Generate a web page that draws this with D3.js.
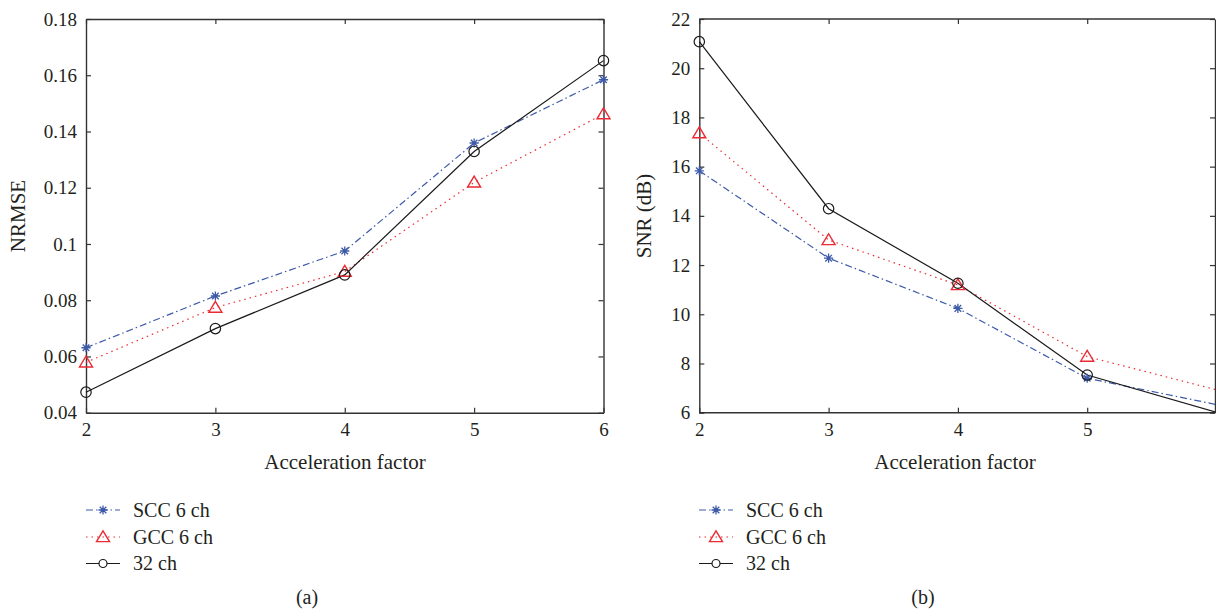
<!DOCTYPE html>
<html><head><meta charset="utf-8">
<script src="https://cdn.jsdelivr.net/npm/d3@7"></script>
<style>
body{margin:0;background:#fff;}
svg text{font-family:"Liberation Serif","DejaVu Serif",serif;fill:#231f20;}
</style></head>
<body><svg id="c" width="1216" height="611"></svg>
<script>
const accel = [2, 3, 4, 5, 6];
const seriesNames = ["SCC 6 ch", "GCC 6 ch", "32 ch"];
// (a) NRMSE
const nrmseSCC = [0.0631, 0.0815, 0.0975, 0.1359, 0.1584];
const nrmseGCC = [0.0579, 0.0774, 0.0902, 0.1219, 0.1462];
const nrmse32  = [0.0473, 0.0699, 0.0890, 0.1329, 0.1652];
// (b) SNR (dB)
const snrSCC = [15.83, 12.28, 10.24, 7.40, 6.33];
const snrGCC = [17.36, 13.02, 11.19, 8.28, 6.93];
const snr32  = [21.08, 14.29, 11.26, 7.53, 6.02];
const nrmseTicks = [0.04, 0.06, 0.08, 0.1, 0.12, 0.14, 0.16, 0.18];
const nrmseTickLabels = ["0.04","0.06","0.08","0.1","0.12","0.14","0.16","0.18"];
const snrTicks = [6, 8, 10, 12, 14, 16, 18, 20, 22];
const snrTickLabels = ["6","8","10","12","14","16","18","20","22"];
const xTicksA = [2, 3, 4, 5, 6];
const xTicksB = [2, 3, 4, 5];

const svg = d3.select("#c");
const styles = [
  {color:"#3d5aa8", dash:"7,3,1.5,3", marker:"star"},
  {color:"#ec2a33", dash:"1.5,4", marker:"tri"},
  {color:"#1a1a1a", dash:null, marker:"circle"}
];
const axisColor = "#333";

function marker(g, type, color, x, y){
  if(type==="circle"){
    g.append("circle").attr("cx",x).attr("cy",y).attr("r",5.2)
      .attr("fill","none").attr("stroke",color).attr("stroke-width",1.2);
  } else if(type==="tri"){
    const s=6.2;
    g.append("path").attr("d",`M${x},${y-s}L${x+s*1.05},${y+s*0.75}L${x-s*1.05},${y+s*0.75}Z`)
      .attr("fill","none").attr("stroke",color).attr("stroke-width",1.4);
  } else {
    const s=4.6, d=s*0.72;
    g.append("path").attr("d",`M${x-s},${y}L${x+s},${y}M${x},${y-s}L${x},${y+s}M${x-d},${y-d}L${x+d},${y+d}M${x-d},${y+d}L${x+d},${y-d}`)
      .attr("stroke",color).attr("stroke-width",1.3).attr("fill","none");
  }
}

const defs = svg.append("defs");
defs.append("clipPath").attr("id","clipB")
  .append("rect").attr("x",690).attr("y",0).attr("width",1215-690).attr("height",420);
defs.append("clipPath").attr("id","clipBm")
  .append("rect").attr("x",690).attr("y",0).attr("width",1209-690).attr("height",420);

function panel(cfg){
  const x = d3.scaleLinear().domain([2,6]).range(cfg.xr);
  const y = d3.scaleLinear().domain(cfg.yd).range([412.7, 19]);
  const g = svg.append("g");
  const fmt = (arr, labels) => (d) => labels[arr.indexOf(d)];
  const bottom = g.append("g").attr("transform","translate(0,412.7)")
    .call(d3.axisBottom(x).tickValues(cfg.xticks).tickFormat(d=>String(d)).tickSizeInner(-5).tickSizeOuter(0).tickPadding(10));
  const top = g.append("g").attr("transform","translate(0,19)")
    .call(d3.axisTop(x).tickValues(cfg.xticks).tickFormat("").tickSizeInner(-5).tickSizeOuter(0));
  const left = g.append("g").attr("transform",`translate(${cfg.xr[0]},0)`)
    .call(d3.axisLeft(y).tickValues(cfg.yticks).tickFormat(fmt(cfg.yticks,cfg.ylabels)).tickSizeInner(-5).tickSizeOuter(0).tickPadding(9));
  const right = g.append("g").attr("transform",`translate(${cfg.rightX},0)`)
    .call(d3.axisRight(y).tickValues(cfg.yticks).tickFormat("").tickSizeInner(-5).tickSizeOuter(0));
  [bottom,top,left,right].forEach(a=>{
    a.selectAll("path.domain").attr("stroke",axisColor).attr("stroke-width",1.4);
    a.selectAll("line").attr("stroke",axisColor).attr("stroke-width",1.2);
    a.selectAll("text").style("font-size","19px").style("font-family","'Liberation Serif',serif").attr("fill","#231f20");
  });
  if(cfg.clip){ top.select("path.domain").attr("d",`M${cfg.xr[0]},0H${cfg.rightX}`);
                bottom.select("path.domain").attr("d",`M${cfg.xr[0]},0H${cfg.rightX}`); }
  const dg = g.append("g");
  const mg = g.append("g");
  if(cfg.clip){ dg.attr("clip-path","url(#"+cfg.clip+")"); mg.attr("clip-path","url(#"+cfg.clip+"m)"); }
  const line = d3.line().x((d,i)=>x(accel[i])).y(d=>y(d));
  cfg.series.forEach((vals,k)=>{
    const st = styles[k];
    dg.append("path").attr("d",line(vals)).attr("fill","none")
      .attr("stroke",st.color).attr("stroke-width",1.2)
      .attr("stroke-dasharray",st.dash);
  });
  cfg.series.forEach((vals,k)=>{
    const st = styles[k];
    vals.forEach((v,i)=>marker(mg, st.marker, st.color, x(accel[i]), y(v)));
  });
  g.append("text").attr("transform",`translate(${cfg.ylabX},216) rotate(-90)`)
    .attr("text-anchor","middle").style("font-size","21px").text(cfg.ylabel);
  g.append("text").attr("x",cfg.xlabX).attr("y",469).attr("text-anchor","middle")
    .style("font-size","21px").text("Acceleration factor");
  const lg = g.append("g");
  const ly = [510, 537, 563.5];
  seriesNames.forEach((n,k)=>{
    const st = styles[k];
    lg.append("line").attr("x1",cfg.legX).attr("x2",cfg.legX+34).attr("y1",ly[k]).attr("y2",ly[k])
      .attr("stroke",st.color).attr("stroke-width",1.2).attr("stroke-dasharray",st.dash);
    if(st.marker==="circle"){
      lg.append("circle").attr("cx",cfg.legX+17).attr("cy",ly[k]).attr("r",4)
        .attr("fill","#fff").attr("stroke",st.color).attr("stroke-width",1.2);
    } else marker(lg, st.marker, st.color, cfg.legX+17, ly[k]);
    lg.append("text").attr("x",cfg.legX+47).attr("y",ly[k]+6.5).style("font-size","20px").text(n);
  });
  g.append("text").attr("x",cfg.capX).attr("y",604).attr("text-anchor","middle")
    .style("font-size","20px").text(cfg.caption);
}

panel({xr:[86,603.5], rightX:603.5, yd:[0.04,0.18], xticks:xTicksA, yticks:nrmseTicks, ylabels:nrmseTickLabels,
  series:[nrmseSCC,nrmseGCC,nrmse32], ylabel:"NRMSE", ylabX:25, xlabX:345, legX:86, capX:307, caption:"(a)"});
panel({xr:[699.3,1216.5], rightX:1215, yd:[6,22], xticks:xTicksB, yticks:snrTicks, ylabels:snrTickLabels,
  series:[snrSCC,snrGCC,snr32], ylabel:"SNR (dB)", ylabX:651, xlabX:955, legX:699, capX:923, caption:"(b)", clip:"clipB"});
</script></body></html>
